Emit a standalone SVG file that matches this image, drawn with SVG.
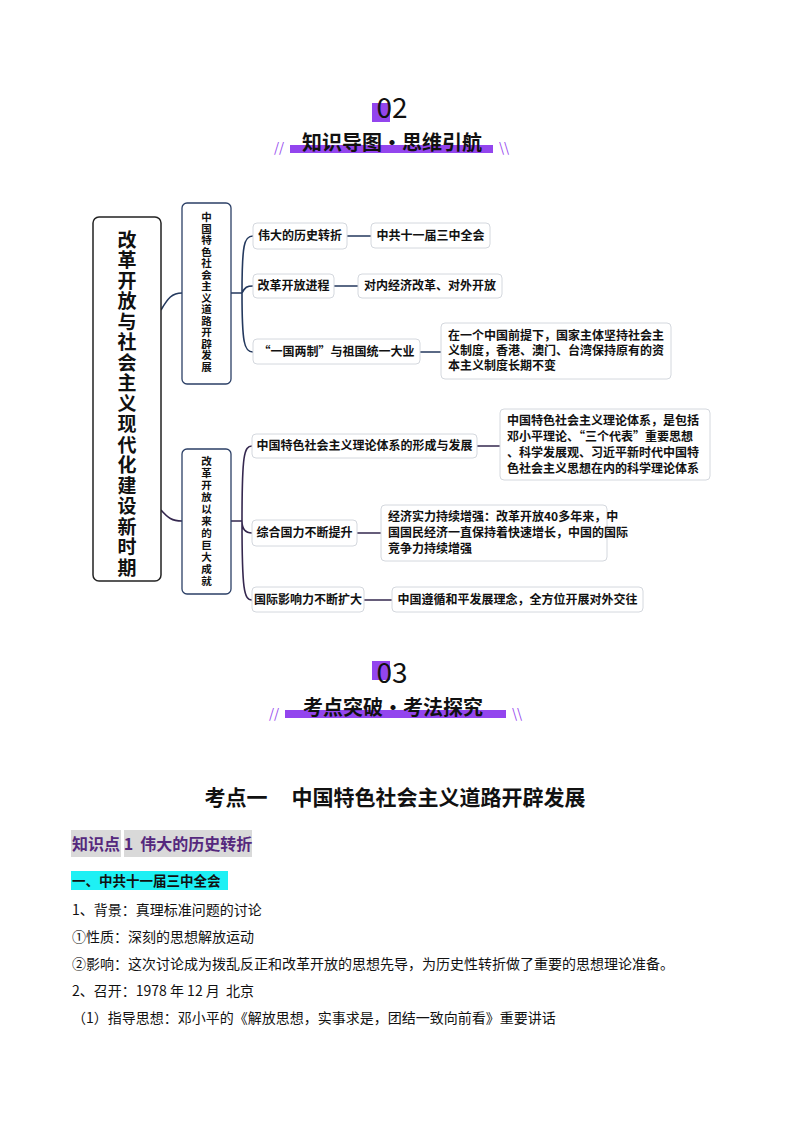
<svg xmlns="http://www.w3.org/2000/svg" width="794" height="1123" viewBox="0 0 794 1123">
<style>
text{font-family:"Noto Sans CJK SC","Noto Sans",sans-serif;fill:#111}
.b{font-weight:bold}
.box{fill:#fff;stroke:#d4d8de;stroke-width:1}
.main{fill:#fff;stroke:#222;stroke-width:1.5}
.br{fill:#fff;stroke:#2b3f66;stroke-width:1.3}
.t{font-size:12px;font-weight:bold}
.c1{fill:none;stroke:#24395e;stroke-width:1.6}
.c2{fill:none;stroke:#35284f;stroke-width:1.6}
.body{font-size:14px}
.p{fill:#9345ee}
.v{writing-mode:vertical-rl;font-weight:bold}
</style>
<rect width="794" height="1123" fill="#fff"/>
<g id="header02">
<rect x="372" y="103" width="18" height="19" class="p"/>
<text x="392" y="118" font-size="28" text-anchor="middle" font-family="Liberation Sans,sans-serif">02</text>
<rect x="290" y="145" width="203" height="8" class="p"/>
<text x="392" y="150" font-size="20" class="b" text-anchor="middle">知识导图·思维引航</text>
<text x="274" y="152" font-size="13" class="p">//</text>
<text x="499" y="152" font-size="13" class="p">\\</text>
</g>
<g id="header03">
<rect x="372" y="661" width="18" height="19" class="p"/>
<text x="392" y="683" font-size="28" text-anchor="middle" font-family="Liberation Sans,sans-serif">03</text>
<rect x="285" y="710" width="221" height="8" class="p"/>
<text x="393" y="715" font-size="20" class="b" text-anchor="middle">考点突破·考法探究</text>
<text x="269" y="718" font-size="13" class="p">//</text>
<text x="512" y="718" font-size="13" class="p">\\</text>
</g>
<g id="connectors">
<path class="c1" d="M161 310 C168 298 172 293 182 293"/>
<path class="c2" d="M161 510 C168 518 172 521 182 521"/>
<path class="c1" d="M231 293 H242 M242 293 C242 245 244 236 253 236 M242 293 C245 287 247 286 253 286 M242 293 C242 342 244 352 253 352"/>
<path class="c1" d="M347 236 H371 M334 286 H358 M420 352 H441"/>
<path class="c2" d="M231 521 H242 M242 521 C242 455 244 446 252 446 M242 521 C242 527 244 533 252 533 M242 521 C242 590 244 600 252 600"/>
<path class="c2" d="M477 446 H500 M357 533 H381 M364 600 H392"/>
</g>
<g id="root">
<rect class="main" x="93" y="217" width="68" height="364" rx="6"/>
<text class="v" x="127" y="230" font-size="19" letter-spacing="1.5">改革开放与社会主义现代化建设新时期</text>
</g>
<g id="branch1">
<rect class="br" x="182" y="203" width="49" height="181" rx="5"/>
<text class="v" x="206.5" y="212" font-size="10.5" letter-spacing="1">中国特色社会主义道路开辟发展</text>
</g>
<g id="branch2">
<rect class="br" x="182" y="449" width="49" height="145" rx="5"/>
<text class="v" x="206.5" y="456" font-size="10.5" letter-spacing="1.5">改革开放以来的巨大成就</text>
</g>
<g id="n1"><rect class="box" x="253" y="223" width="94" height="26" rx="4"/><text class="t" x="300" y="240" text-anchor="middle">伟大的历史转折</text></g>
<g id="n2"><rect class="box" x="253" y="274" width="81" height="24" rx="4"/><text class="t" x="293.5" y="290" text-anchor="middle">改革开放进程</text></g>
<g id="n3"><rect class="box" x="253" y="339" width="167" height="25" rx="4"/><text class="t" x="336.5" y="356" text-anchor="middle">“一国两制”与祖国统一大业</text></g>
<g id="l1"><rect class="box" x="371" y="223" width="119" height="25" rx="4"/><text class="t" x="430.5" y="240" text-anchor="middle">中共十一届三中全会</text></g>
<g id="l2"><rect class="box" x="358" y="274" width="144" height="24" rx="4"/><text class="t" x="430" y="290" text-anchor="middle">对内经济改革、对外开放</text></g>
<g id="l3"><rect class="box" x="441" y="323" width="230" height="56" rx="4"/>
<text class="t" x="448" y="340">在一个中国前提下，国家主体坚持社会主</text>
<text class="t" x="448" y="355">义制度，香港、澳门、台湾保持原有的资</text>
<text class="t" x="448" y="370">本主义制度长期不变</text></g>
<g id="n4"><rect class="box" x="252" y="434" width="225" height="24" rx="4"/><text class="t" x="364.5" y="450" text-anchor="middle">中国特色社会主义理论体系的形成与发展</text></g>
<g id="n5"><rect class="box" x="252" y="520" width="105" height="26" rx="4"/><text class="t" x="304.5" y="537" text-anchor="middle">综合国力不断提升</text></g>
<g id="n6"><rect class="box" x="252" y="587" width="112" height="25" rx="4"/><text class="t" x="308" y="604" text-anchor="middle">国际影响力不断扩大</text></g>
<g id="l4"><rect class="box" x="500" y="409" width="210" height="71" rx="4"/>
<text class="t" x="507" y="425">中国特色社会主义理论体系，是包括</text>
<text class="t" x="507" y="441">邓小平理论、“三个代表”重要思想</text>
<text class="t" x="507" y="457">、科学发展观、习近平新时代中国特</text>
<text class="t" x="507" y="473">色社会主义思想在内的科学理论体系</text></g>
<g id="l5"><rect class="box" x="381" y="505" width="226" height="56" rx="4"/>
<text class="t" x="388" y="521">经济实力持续增强：改革开放40多年来，中</text>
<text class="t" x="388" y="537">国国民经济一直保持着快速增长，中国的国际</text>
<text class="t" x="388" y="553">竞争力持续增强</text></g>
<g id="l6"><rect class="box" x="392" y="587" width="251" height="25" rx="4"/><text class="t" x="517.5" y="604" text-anchor="middle">中国遵循和平发展理念，全方位开展对外交往</text></g>
<text x="395" y="805" font-size="21" class="b" text-anchor="middle" xml:space="preserve">考点一     中国特色社会主义道路开辟发展</text>
<rect x="71" y="830" width="50" height="27" fill="#d9d9d9"/>
<rect x="124" y="830" width="128" height="27" fill="#d9d9d9"/>
<text x="72" y="850" font-size="16" class="b" style="fill:#55287d" font-family="Noto Serif CJK SC,serif" xml:space="preserve">知识点 1  伟大的历史转折</text>
<rect x="71" y="871" width="157" height="19" fill="#1ef0f4"/>
<text x="72" y="886" font-size="13.5" class="b">一、中共十一届三中全会</text>
<text x="72" y="915" class="body">1、背景：真理标准问题的讨论</text>
<text x="72" y="942" class="body">①性质：深刻的思想解放运动</text>
<text x="72" y="969" class="body">②影响：这次讨论成为拨乱反正和改革开放的思想先导，为历史性转折做了重要的思想理论准备。</text>
<text x="72" y="996" class="body" xml:space="preserve">2、召开：1978 年 12 月  北京</text>
<text x="72" y="1023" class="body">（1）指导思想：邓小平的《解放思想，实事求是，团结一致向前看》重要讲话</text>
</svg>
